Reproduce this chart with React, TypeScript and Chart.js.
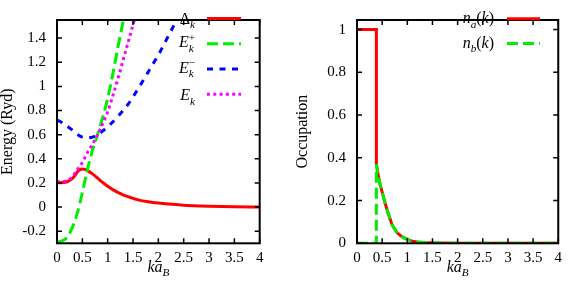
import React, { useEffect, useRef } from 'react';
import { Chart, registerables } from 'chart.js';

Chart.register(...registerables);

const FONT = '"Liberation Serif", "Times New Roman", serif';

// ---------- axes ----------
const kTicks = [0, 0.5, 1, 1.5, 2, 2.5, 3, 3.5, 4];
const kTickLabels = ['0', '0.5', '1', '1.5', '2', '2.5', '3', '3.5', '4'];
const energyTicks = [-0.2, 0, 0.2, 0.4, 0.6, 0.8, 1, 1.2, 1.4];
const energyTickLabels = ['-0.2', '0', '0.2', '0.4', '0.6', '0.8', '1', '1.2', '1.4'];
const occTicks = [0, 0.2, 0.4, 0.6, 0.8, 1];
const occTickLabels = ['0', '0.2', '0.4', '0.6', '0.8', '1'];

// ---------- left panel: energies ----------
const kDelta = [0, 0.1, 0.2, 0.3, 0.35, 0.4, 0.45, 0.5, 0.55, 0.6, 0.7, 0.8, 0.9, 1.0, 1.1, 1.2, 1.3, 1.4, 1.5, 1.6, 1.8, 2.0, 2.2, 2.5, 2.8, 3.0, 3.5, 4.0];
const delta = [0.2, 0.203, 0.21, 0.235, 0.26, 0.29, 0.31, 0.316, 0.313, 0.302, 0.275, 0.24, 0.205, 0.172, 0.145, 0.122, 0.102, 0.086, 0.072, 0.06, 0.044, 0.033, 0.025, 0.016, 0.01, 0.007, 0.003, 0.001];

const kEPlus = [0, 0.1, 0.2, 0.3, 0.4, 0.5, 0.6, 0.7, 0.8, 0.9, 1.0, 1.1, 1.2, 1.3, 1.4];
const ePlus = [-0.29, -0.28, -0.25, -0.17, -0.05, 0.12, 0.31, 0.47, 0.6, 0.74, 0.9, 1.1, 1.32, 1.53, 1.75];

const kEMinus = [0, 0.1, 0.2, 0.3, 0.4, 0.5, 0.6, 0.7, 0.8, 0.9, 1.0, 1.2, 1.4, 1.6, 1.8, 2.0, 2.2, 2.4];
const eMinus = [0.72, 0.7, 0.67, 0.64, 0.603, 0.58, 0.575, 0.58, 0.6, 0.63, 0.665, 0.75, 0.85, 0.98, 1.12, 1.26, 1.42, 1.58];

const kEk = [0, 0.1, 0.2, 0.3, 0.4, 0.5, 0.6, 0.7, 0.8, 0.9, 1.0, 1.1, 1.2, 1.3, 1.4, 1.5, 1.6];
const eK = [0.21, 0.212, 0.22, 0.25, 0.31, 0.37, 0.45, 0.52, 0.6, 0.69, 0.79, 0.92, 1.06, 1.21, 1.36, 1.51, 1.66];

// ---------- right panel: occupations ----------
const kOcc = [0, 0.385, 0.385, 0.42, 0.46, 0.5, 0.55, 0.6, 0.65, 0.7, 0.8, 0.9, 1.0, 1.1, 1.2, 1.4, 1.6, 2.0, 2.5, 3.0, 3.5, 4.0];
const nA = [1, 1, 0.37, 0.32, 0.275, 0.24, 0.195, 0.155, 0.12, 0.085, 0.048, 0.03, 0.018, 0.01, 0.006, 0.002, 0.001, 0, 0, 0, 0, 0];
const nB = [0, 0, 0.37, 0.32, 0.275, 0.24, 0.195, 0.155, 0.12, 0.085, 0.048, 0.03, 0.018, 0.01, 0.006, 0.002, 0.001, 0, 0, 0, 0, 0];

// ---------- rich text ----------
type Run = { t: string; it?: boolean; sub?: boolean; sup?: boolean; stack?: boolean };

function drawRich(ctx: CanvasRenderingContext2D, runs: Run[], x: number, y: number, size: number, align: 'left' | 'right' | 'center') {
  const items: { r: Run; x: number; dy: number; font: string }[] = [];
  let cx = 0;
  let pending = 0;
  for (const r of runs) {
    const fs = r.sub || r.sup ? size * 0.7 : size;
    const font = `${r.it ? 'italic ' : ''}${fs}px ${FONT}`;
    ctx.font = font;
    const w = ctx.measureText(r.t).width;
    const dy = r.sub ? size * 0.27 : r.sup ? -size * 0.4 : 0;
    items.push({ r, x: cx, dy, font });
    if (r.stack) {
      pending = w;
    } else {
      cx += Math.max(w, pending);
      pending = 0;
    }
  }
  const total = cx;
  const x0 = align === 'left' ? x : align === 'right' ? x - total : x - total / 2;
  ctx.textAlign = 'left';
  ctx.textBaseline = 'alphabetic';
  for (const it of items) {
    ctx.font = it.font;
    ctx.fillText(it.r.t, x0 + it.x, y + it.dy);
  }
}

type LegendEntry = { ds: number; runs: Run[]; dy: number };

type DecorCfg = {
  xTicks: number[];
  yTicks: number[];
  legend: LegendEntry[];
  labelRight: number;
  lineX1: number;
  lineX2: number;
  rowY0: number;
  rowStep: number;
  yTitle: string;
  yTitleX: number;
  xTitle: Run[];
  xTitleY: number;
};

function decorPlugin(cfg: DecorCfg) {
  return {
    id: 'decor',
    afterDraw(chart: any) {
      const ctx: CanvasRenderingContext2D = chart.ctx;
      const a = chart.chartArea;
      const xs = chart.scales.x;
      const ys = chart.scales.y;
      ctx.save();
      ctx.setLineDash([]);
      ctx.strokeStyle = '#000';
      ctx.lineWidth = 1.5;
      ctx.beginPath();
      for (const v of cfg.xTicks) {
        const px = xs.getPixelForValue(v);
        ctx.moveTo(px, a.bottom);
        ctx.lineTo(px, a.bottom - 5);
        ctx.moveTo(px, a.top);
        ctx.lineTo(px, a.top + 5);
      }
      for (const v of cfg.yTicks) {
        const py = ys.getPixelForValue(v);
        ctx.moveTo(a.left, py);
        ctx.lineTo(a.left + 5, py);
        ctx.moveTo(a.right, py);
        ctx.lineTo(a.right - 5, py);
      }
      ctx.stroke();
      ctx.lineWidth = 2;
      ctx.strokeRect(a.left, a.top, a.right - a.left, a.bottom - a.top);

      // legend
      ctx.fillStyle = '#000';
      cfg.legend.forEach((e, i) => {
        const ds = chart.data.datasets[e.ds];
        const y = cfg.rowY0 + i * cfg.rowStep;
        ctx.save();
        ctx.strokeStyle = ds.borderColor;
        ctx.lineWidth = ds.borderWidth;
        ctx.setLineDash(ds.borderDash || []);
        ctx.lineCap = 'butt';
        ctx.beginPath();
        ctx.moveTo(cfg.lineX1, y);
        ctx.lineTo(cfg.lineX2, y);
        ctx.stroke();
        ctx.restore();
        drawRich(ctx, e.runs, cfg.labelRight, y + e.dy, 16, 'right');
      });

      // y title
      ctx.save();
      ctx.translate(cfg.yTitleX, (a.top + a.bottom) / 2);
      ctx.rotate(-Math.PI / 2);
      ctx.font = `16px ${FONT}`;
      ctx.textAlign = 'center';
      ctx.textBaseline = 'alphabetic';
      ctx.fillText(cfg.yTitle, 0, 0);
      ctx.restore();

      // x title
      drawRich(ctx, cfg.xTitle, (a.left + a.right) / 2, cfg.xTitleY, 16, 'center');
      ctx.restore();
    },
  };
}

function pts(xs: number[], ys: number[]) {
  return xs.map((x, i) => ({ x, y: ys[i] }));
}

function scaleX() {
  return {
    type: 'linear' as const,
    min: 0,
    max: 4,
    grid: { display: false, drawTicks: false },
    border: { display: false },
    afterBuildTicks: (s: any) => {
      s.ticks = kTicks.map((v) => ({ value: v }));
    },
    afterFit: (s: any) => {
      s.height = 37.7;
    },
    ticks: {
      callback: (_v: any, i: number) => kTickLabels[i],
      font: { family: FONT, size: 15 },
      color: '#000',
      padding: 6,
      maxRotation: 0,
      autoSkip: false,
    },
  };
}

function scaleY(min: number, max: number, ticks: number[], labels: string[], width: number) {
  return {
    type: 'linear' as const,
    min,
    max,
    grid: { display: false, drawTicks: false },
    border: { display: false },
    afterBuildTicks: (s: any) => {
      s.ticks = ticks.map((v) => ({ value: v }));
    },
    afterFit: (s: any) => {
      s.width = width;
    },
    ticks: {
      callback: (_v: any, i: number) => labels[i],
      font: { family: FONT, size: 15 },
      color: '#000',
      padding: 11,
      autoSkip: false,
    },
  };
}

const lineBase = { pointRadius: 0, fill: false, borderCapStyle: 'butt' as const, clip: 0 };

function EnergyChart() {
  const ref = useRef<HTMLCanvasElement>(null);
  useEffect(() => {
    const chart = new Chart(ref.current!, {
      type: 'line',
      data: {
        datasets: [
          { ...lineBase, label: 'Delta', data: pts(kDelta, delta), borderColor: '#ff0000', borderWidth: 3, cubicInterpolationMode: 'monotone', order: 4 },
          { ...lineBase, label: 'E+', data: pts(kEPlus, ePlus), borderColor: '#00ee00', borderWidth: 3, borderDash: [11, 5], cubicInterpolationMode: 'monotone', order: 3 },
          { ...lineBase, label: 'E-', data: pts(kEMinus, eMinus), borderColor: '#0000ff', borderWidth: 3, borderDash: [6, 6.5], cubicInterpolationMode: 'monotone', order: 2 },
          { ...lineBase, label: 'E', data: pts(kEk, eK), borderColor: '#ff00ff', borderWidth: 3, borderDash: [3, 3.3], cubicInterpolationMode: 'monotone', order: 1 },
        ],
      },
      options: {
        responsive: false,
        animation: false,
        devicePixelRatio: 1,
        layout: { padding: { left: 0, right: 24.3, top: 1.7, bottom: 0 } },
        plugins: { legend: { display: false }, tooltip: { enabled: false } },
        scales: {
          x: scaleX(),
          y: scaleY(-0.3, 1.55, energyTicks, energyTickLabels, 57),
        },
      } as any,
      plugins: [
        decorPlugin({
          xTicks: kTicks,
          yTicks: energyTicks,
          legend: [
            { ds: 0, runs: [{ t: 'Δ' }, { t: 'k', it: true, sub: true }], dy: 5.5 },
            { ds: 1, runs: [{ t: 'E', it: true }, { t: 'k', it: true, sub: true, stack: true }, { t: '+', sup: true }], dy: 3.5 },
            { ds: 2, runs: [{ t: 'E', it: true }, { t: 'k', it: true, sub: true, stack: true }, { t: '−', sup: true }], dy: 3.5 },
            { ds: 3, runs: [{ t: 'E', it: true }, { t: 'k', it: true, sub: true }], dy: 6 },
          ],
          labelRight: 195,
          lineX1: 207,
          lineX2: 241,
          rowY0: 18.6,
          rowStep: 25.2,
          yTitle: 'Energy (Ryd)',
          yTitleX: 12,
          xTitle: [{ t: 'ka', it: true }, { t: 'B', it: true, sub: true }],
          xTitleY: 271.5,
        }),
      ],
    });
    return () => chart.destroy();
  }, []);
  return <canvas ref={ref} width={284} height={281} style={{ display: 'block' }} />;
}

function OccupationChart() {
  const ref = useRef<HTMLCanvasElement>(null);
  useEffect(() => {
    const chart = new Chart(ref.current!, {
      type: 'line',
      data: {
        datasets: [
          { ...lineBase, label: 'na', data: pts(kOcc, nA), borderColor: '#ff0000', borderWidth: 3, tension: 0, order: 2 },
          { ...lineBase, label: 'nb', data: pts(kOcc, nB), borderColor: '#00ee00', borderWidth: 3, borderDash: [11, 5], tension: 0, order: 1 },
        ],
      },
      options: {
        responsive: false,
        animation: false,
        devicePixelRatio: 1,
        layout: { padding: { left: 0, right: 8.5, top: 3, bottom: 0 } },
        plugins: { legend: { display: false }, tooltip: { enabled: false } },
        scales: {
          x: scaleX(),
          y: scaleY(0, 1.045, occTicks, occTickLabels, 73),
        },
      } as any,
      plugins: [
        decorPlugin({
          xTicks: kTicks,
          yTicks: occTicks,
          legend: [
            { ds: 0, runs: [{ t: 'n', it: true }, { t: 'a', it: true, sub: true }, { t: '(' }, { t: 'k', it: true }, { t: ')' }], dy: 4.5 },
            { ds: 1, runs: [{ t: 'n', it: true }, { t: 'b', it: true, sub: true }, { t: '(' }, { t: 'k', it: true }, { t: ')' }], dy: 4.5 },
          ],
          labelRight: 210,
          lineX1: 223,
          lineX2: 256,
          rowY0: 18.8,
          rowStep: 24.6,
          yTitle: 'Occupation',
          yTitleX: 23,
          xTitle: [{ t: 'ka', it: true }, { t: 'B', it: true, sub: true }],
          xTitleY: 271.5,
        }),
      ],
    });
    return () => chart.destroy();
  }, []);
  return <canvas ref={ref} width={284} height={281} style={{ display: 'block' }} />;
}

export default function App() {
  return (
    <div style={{ position: 'fixed', left: 0, top: 0, width: 568, height: 281, background: '#fff' }}>
      <div style={{ position: 'absolute', left: 0, top: 0, width: 284, height: 281 }}>
        <EnergyChart />
      </div>
      <div style={{ position: 'absolute', left: 284, top: 0, width: 284, height: 281 }}>
        <OccupationChart />
      </div>
    </div>
  );
}
